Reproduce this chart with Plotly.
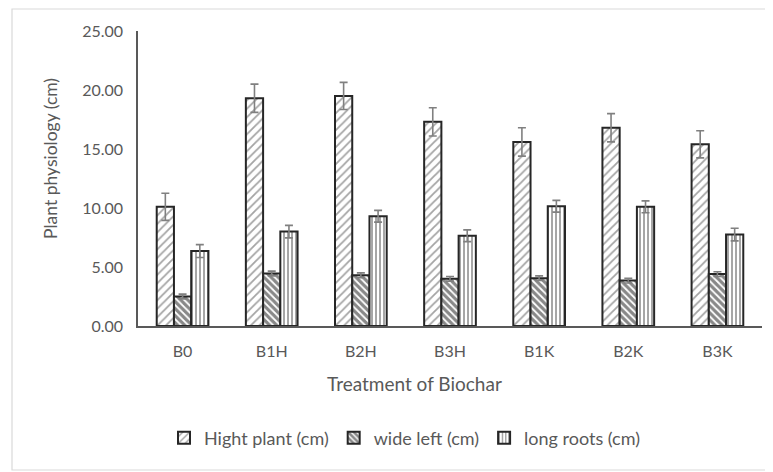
import plotly.graph_objects as go

categories = ["B0", "B1H", "B2H", "B3H", "B1K", "B2K", "B3K"]
hight_plant = [10.1, 19.3, 19.5, 17.3, 15.6, 16.8, 15.4]
hight_plant_err = [1.15, 1.2, 1.15, 1.2, 1.2, 1.2, 1.15]
wide_left = [2.5, 4.45, 4.3, 4.0, 4.05, 3.85, 4.4]
wide_left_err = [0.2, 0.2, 0.2, 0.2, 0.2, 0.2, 0.2]
long_roots = [6.35, 8.0, 9.3, 7.65, 10.15, 10.1, 7.75]
long_roots_err = [0.55, 0.53, 0.5, 0.5, 0.5, 0.5, 0.54]
y_ticks = [0, 5, 10, 15, 20, 25]

FONT = "Lato"
TXT = "#595959"
OUT = "#262626"

def err(vals):
    return dict(type="data", array=vals, visible=True, color="#808080", thickness=1.6, width=4)

fig = go.Figure()
fig.add_trace(go.Bar(
    name="Hight plant (cm)", x=categories, y=hight_plant, error_y=err(hight_plant_err),
    marker=dict(color="white", line=dict(color=OUT, width=2),
                pattern=dict(shape="/", fgcolor="#4a4a4a", bgcolor="white", size=6, solidity=0.3)),
))
fig.add_trace(go.Bar(
    name="wide left (cm)", x=categories, y=wide_left, error_y=err(wide_left_err),
    marker=dict(color="white", line=dict(color=OUT, width=2),
                pattern=dict(shape="\\", fgcolor="#111111", bgcolor="white", size=5, solidity=0.65)),
))
fig.add_trace(go.Bar(
    name="long roots (cm)", x=categories, y=long_roots, error_y=err(long_roots_err),
    marker=dict(color="white", line=dict(color=OUT, width=2),
                pattern=dict(shape="|", fgcolor="#3a3a3a", bgcolor="white", size=4, solidity=0.45)),
))

# page offset of 8px (body margin): page px = fig px + 8
OFF = 8
FW, FH = 773 - OFF, 472 - OFF
L, R, T, B = 138 - OFF, 762 - OFF, 31 - OFF, 326 - OFF
W, H = R - L, B - T
def px(x): return (x - OFF - L) / W
def py(y): return (B - (y - OFF)) / H

fig.update_layout(
    width=FW, height=FH,
    margin=dict(l=L, r=FW - R, t=T, b=FH - B),
    paper_bgcolor="white", plot_bgcolor="white",
    barmode="group", bargap=0.42, bargroupgap=0,
    font=dict(family=FONT, size=16, color=TXT),
    showlegend=True,
    legend=dict(orientation="h", x=px(405), xanchor="center", y=py(438), yanchor="middle",
                font=dict(family=FONT, size=18, color=TXT), itemwidth=30,
                bgcolor="rgba(0,0,0,0)"),
    xaxis=dict(showline=True, linecolor="#595959", linewidth=1.5, showgrid=False,
               ticks="", ticklabelstandoff=10, tickfont=dict(family=FONT, size=16, color=TXT)),
    yaxis=dict(range=[0, 25], tickvals=y_ticks, tickformat=".2f", showline=True,
               linecolor="#595959", linewidth=1.5, showgrid=False, zeroline=False,
               ticks="", ticklabelstandoff=10,
               tickfont=dict(family=FONT, size=16, color=TXT)),
    shapes=[dict(type="rect", xref="paper", yref="paper",
                 x0=px(12), x1=px(771), y0=py(470), y1=py(9),
                 line=dict(color="#d9d9d9", width=1.2), fillcolor="rgba(0,0,0,0)", layer="below")],
    annotations=[
        dict(text="Treatment of Biochar", xref="paper", yref="paper", x=px(414), y=py(383),
             xanchor="center", yanchor="middle", showarrow=False,
             font=dict(family=FONT, size=19, color=TXT)),
        dict(text="Plant physiology (cm)", xref="paper", yref="paper", x=px(50), y=py(159),
             xanchor="center", yanchor="middle", textangle=-90, showarrow=False,
             font=dict(family=FONT, size=17.5, color=TXT)),
    ],
)

fig.write_html("out.html")
